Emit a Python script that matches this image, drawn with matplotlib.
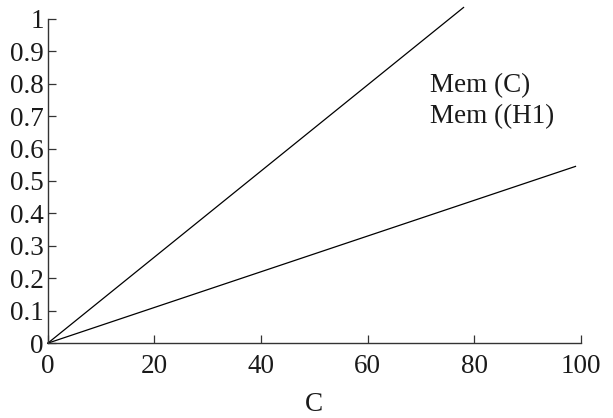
import matplotlib
matplotlib.use("Agg")
import matplotlib.pyplot as plt

plt.rcParams['font.family'] = ['Liberation Serif', 'DejaVu Serif']

# Data
c_upper = [0, 78]
mem_upper = [0, 1.035]
c_lower = [0, 99]
mem_lower = [0, 0.545]
legend_labels = ["Mem (C)", "Mem ((H1)"]
xticks = [0, 20, 40, 60, 80, 100]
yticks = [0, 0.1, 0.2, 0.3, 0.4, 0.5, 0.6, 0.7, 0.8, 0.9, 1]
ytick_labels = ["0", "0.1", "0.2", "0.3", "0.4", "0.5", "0.6", "0.7", "0.8", "0.9", "1"]

fig = plt.figure(figsize=(6.13, 4.18), dpi=100)
ax = fig.add_axes([0.078, 0.179, 0.8695, 0.776])

ax.plot(c_upper, mem_upper, color='black', lw=0.9, clip_on=False)
ax.plot(c_lower, mem_lower, color='black', lw=0.9, clip_on=False)

ax.set_xlim(0, 100)
ax.set_ylim(0, 1)
ax.set_xticks(xticks)
ax.set_xticklabels([str(t) for t in xticks])
ax.set_yticks(yticks)
ax.set_yticklabels(ytick_labels)

for s in ['top', 'right']:
    ax.spines[s].set_visible(False)
for s in ['left', 'bottom']:
    ax.spines[s].set_color('#333333')
    ax.spines[s].set_linewidth(1.0)

ax.tick_params(axis='both', direction='in', length=6, width=0.9, color='#333333',
               labelsize=19.5, labelcolor='#1a1a1a')
ax.tick_params(axis='x', pad=8)
ax.tick_params(axis='y', pad=3)

ax.set_xlabel("C", fontsize=19.5, labelpad=9, color='#1a1a1a')

ax.text(71.7, 0.775, legend_labels[0], fontsize=19.5, ha='left', va='baseline',
        color='#1a1a1a')
ax.text(71.7, 0.679, legend_labels[1], fontsize=19.5, ha='left', va='baseline',
        color='#1a1a1a')

fig.savefig("out.png", dpi=100)
